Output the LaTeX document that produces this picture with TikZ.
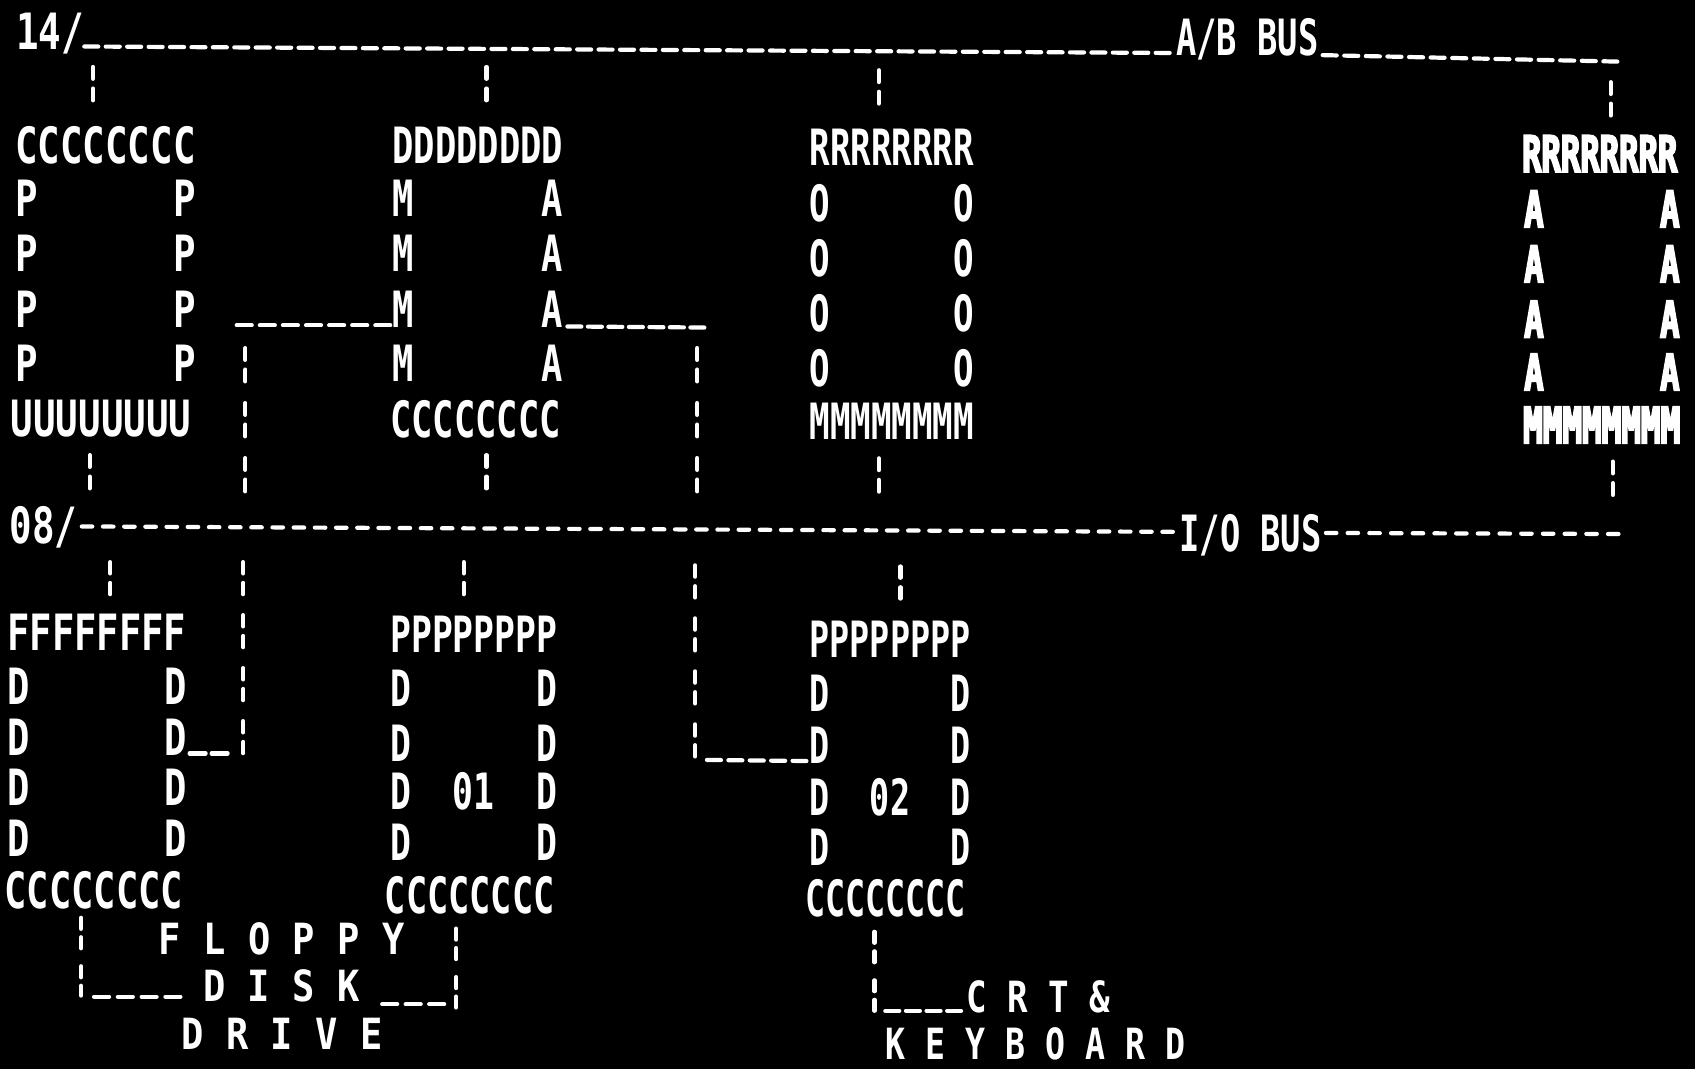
\documentclass[tikz,border=0pt]{standalone}
\usepackage{fontspec}
\usepackage{graphicx}
\usetikzlibrary{calc}
\newfontfamily\crtfam[FakeStretch=0.75]{DejaVu Sans Mono}
\newcommand\sx[2]{\scalebox{#1}[1]{#2}}
\newcommand\gsix{\hphantom{MMMMMM}}
\newcommand\gtwo{\hphantom{MM}}
\newcommand\gp{\hphantom{M}}
\begin{document}
\begin{tikzpicture}[x=1.0811pt,y=-1.0811pt,
  crt/.style={font=\crtfam\bfseries\fontsize{50}{50}\selectfont,text=white,inner sep=0pt,outer sep=0pt,anchor=base west},
  heavy/.style={crt,font=\crtfam\bfseries\fontsize{50}{50}\selectfont\addfontfeature{FakeBold=4}},
  lbl/.style={crt,font=\crtfam\bfseries\fontsize{43}{43}\selectfont},
  wire/.style={draw=white,line width=4.2pt,line cap=round},
  ul/.style 2 args={wire,dash pattern=on #1pt off #2pt},
  vbar/.style={wire,dash pattern=on 11.8pt off 9.7pt on 11.8pt off 21.7pt},
  vbarb/.style={wire,dash pattern=on 11.3pt off 9.5pt on 11.3pt off 20.9pt},
  vbarc/.style={wire,dash pattern=on 11pt off 8.5pt on 11pt off 18pt},
]
\fill[black] (0,0) rectangle (1568,989);
\useasboundingbox (0,0) rectangle (1568,989);

% ---------- A/B bus ----------
\node[crt] (n14) at (15,46) {14/};
\node[crt] (nab) at (1088,51) {\sx{0.9}{A/B BUS}};
\coordinate (abL) at (78,43);
\coordinate (abR) at (1497,57);
\draw[ul={14}{7.43}] (abL) -- ($(nab.base west)+(-6,-2)$);
\draw[ul={14}{7.6}] ($(nab.base east)+(4,0)$) -- (abR);
\foreach \n/\x/\y in {tA1/86/62,tA2/450/62,tA3/813/65,tA4/1490/76}
  {\coordinate (\n) at (\x,\y); \draw[vbar] (\n) -- ++(0,34);}

% ---------- CPU ----------
\node[crt] (cpuH) at (14,151) {CCCCCCCC};
\foreach \i/\y in {1/200,2/251,3/303,4/353}
  \node[crt] (cpuR\i) at (14,\y) {P\gsix P};
\node[crt] (cpuF) at (10,404) {UUUUUUUU};

% ---------- DMA ----------
\node[crt] (dmaH) at (363,151) {\sx{0.945}{DDDDDDDD}};
\foreach \i/\y in {1/200,2/251,3/303,4/353}
  \node[crt] (dmaR\i) at (363,\y) {\sx{0.945}{M\gsix A}};
\node[crt] (dmaF) at (361,405) {\sx{0.945}{CCCCCCCC}};

% ---------- ROM ----------
\node[crt] (romH) at (749,153) {\sx{0.91}{RRRRRRRR}};
\foreach \i/\y in {1/205,2/256,3/307,4/358}
  \node[crt] (romR\i) at (749,\y) {\sx{0.91}{O\gsix O}};
\node[crt] (romF) at (749,407) {\sx{0.91}{MMMMMMMM}};

% ---------- RAM ----------
\node[heavy] (ramH) at (1408,159) {\sx{0.86}{RRRRRRRR}};
\foreach \i/\y in {1/210,2/261,3/312,4/361}
  \node[heavy] (ramR\i) at (1410,\y) {\sx{0.86}{A\gsix A}};
\node[heavy] (ramF) at (1409,410) {\sx{0.87}{MMMMMMMM}};

% ---------- DMA channel wires ----------
\coordinate (dmaLw) at (219,301);
\draw[ul={15}{8.1}] (dmaLw) -- ($(dmaR3.base west)+(-2,-2)$);
\coordinate (dmaRe) at (652,303);
\draw[ul={14}{6.5}] ($(dmaR3.base east)+(4,-1)$) -- (dmaRe);
\coordinate (vL1) at (227,322); \draw[vbar] (vL1) -- ++(0,134);
\coordinate (vR1) at (645,322); \draw[vbar] (vR1) -- ++(0,134);
\foreach \n/\x/\y in {tB1/83/421,tB2/450/421,tB3/813/424,tB4/1492/427}
  {\coordinate (\n) at (\x,\y); \draw[vbar] (\n) -- ++(0,33);}

% ---------- I/O bus ----------
\node[crt] (n08) at (9,503) {08/};
\node[crt] (nio) at (1091,510) {\sx{0.9}{I/O BUS}};
\coordinate (ioR) at (1498,494);
\draw[ul={10.5}{10.69}] ($(n08.base east)+(4,-16)$) -- ($(nio.base west)+(-6,-18)$);
\draw[ul={10.5}{11.2}] ($(nio.base east)+(4,-17)$) -- (ioR);
\foreach \n/\x/\y in {tC1/102/520,tC2/429/520,tC3/833/524}
  {\coordinate (\n) at (\x,\y); \draw[vbarb] (\n) -- ++(0,33);}

% ---------- FDC ----------
\node[crt] (fdcH) at (7,602) {\sx{0.99}{FFFFFFFF}};
\foreach \i/\y in {1/652,2/699,3/745,4/792}
  \node[crt] (fdcR\i) at (7,\y) {\sx{0.99}{D\gsix D}};
\node[crt] (fdcF) at (4,840) {\sx{0.99}{CCCCCCCC}};

% ---------- PDC 01 ----------
\node[crt] (p1H) at (361,604) {\sx{0.925}{PPPPPPPP}};
\node[crt] (p1R1) at (361,654) {\sx{0.925}{D\gsix D}};
\node[crt] (p1R2) at (361,704) {\sx{0.925}{D\gsix D}};
\node[crt] (p1R3) at (361,749) {\sx{0.925}{D\gtwo 01\gtwo D}};
\node[crt] (p1R4) at (361,796) {\sx{0.925}{D\gsix D}};
\node[crt] (p1F) at (356,845) {\sx{0.94}{CCCCCCCC}};

% ---------- PDC 02 ----------
\node[crt] (p2H) at (749,608) {\sx{0.89}{PPPPPPPP}};
\node[crt] (p2R1) at (749,658) {\sx{0.89}{D\gsix D}};
\node[crt] (p2R2) at (749,706) {\sx{0.89}{D\gsix D}};
\node[crt] (p2R3) at (749,754) {\sx{0.89}{D\gtwo 02\gtwo D}};
\node[crt] (p2R4) at (749,801) {\sx{0.89}{D\gsix D}};
\node[crt] (p2F) at (745,848) {\sx{0.89}{CCCCCCCC}};

% ---------- DMA channels to devices ----------
\coordinate (vL2) at (225,520);
\coordinate (jFdc) at (225,699);
\draw[vbarb] (vL2) -- (jFdc);
\draw[ul={16}{6}] ($(fdcR2.base east)+(3,-2)$) -- ($(jFdc)+(-14,-2)$);
\coordinate (vR2) at (643,523);
\coordinate (jPdc) at (643,704);
\draw[vbarb] (vR2) -- (jPdc);
\draw[ul={14}{7.4}] ($(jPdc)+(11,-1)$) -- ($(p2R2.base west)+(-3,-2)$);

% ---------- floppy disk drive ----------
\node[lbl] (nFloppy) at (147,883) {\sx{1.15}{F\gp L\gp O\gp P\gp P\gp Y}};
\node[lbl] (nDisk) at (188,926) {\sx{1.15}{D\gp I\gp S\gp K}};
\node[lbl] (nDrive) at (168,971) {\sx{1.15}{D\gp R\gp I\gp V\gp E}};
\coordinate (fL) at (75,849); \coordinate (fLb) at (75,921);
\draw[vbarc] (fL) -- (fLb);
\draw[ul={15}{8.8}] ($(fLb)+(12,1)$) -- ($(nDisk.base west)+(-21,-4)$);
\coordinate (fR) at (422,859); \coordinate (fRb) at (422,932);
\draw[vbarc] (fR) -- (fRb);
\draw[ul={15}{8.5}] ($(nDisk.base east)+(21,3)$) -- ($(fRb)+(-11,-3)$);

% ---------- CRT & keyboard ----------
\node[lbl] (nCrt) at (894,937) {\sx{1.06}{C\gp R\gp T\gp \&}};
\node[lbl] (nKey) at (819,980) {\sx{1.03}{K\gp E\gp Y\gp B\gp O\gp A\gp R\gp D}};
\coordinate (cK) at (809,862); \coordinate (cKb) at (809,937);
\draw[vbarc] (cK) -- (cKb);
\draw[ul={14}{6.6}] ($(cKb)+(10,-2)$) -- ($(nCrt.base west)+(-5,-2)$);
\end{tikzpicture}
\end{document}
